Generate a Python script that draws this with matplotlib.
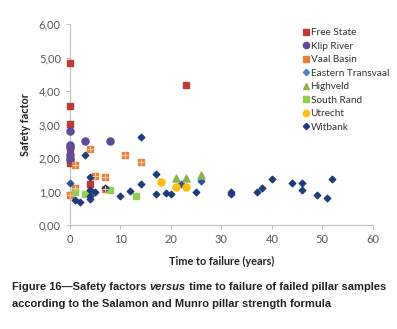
import matplotlib
matplotlib.use("Agg")
import matplotlib.pyplot as plt
from matplotlib.lines import Line2D

# Data (time to failure in years, safety factor)
free_state_x = [0, 0, 0, 0, 0, 0, 23, 4]
free_state_y = [4.85, 3.55, 3.03, 2.25, 1.95, 1.85, 4.18, 1.21]

klip_river_x = [0, 0, 0, 0, 0, 3, 8]
klip_river_y = [2.80, 2.38, 2.33, 2.08, 1.97, 2.52, 2.52]

vaal_basin_x = [1, 4, 5, 7, 11, 14, 0, 1, 7]
vaal_basin_y = [1.79, 2.26, 1.47, 1.42, 2.08, 1.87, 0.91, 1.10, 1.09]

eastern_transvaal_x = [0, 22, 26]
eastern_transvaal_y = [1.26, 1.22, 1.31]

highveld_x = [21, 23, 26]
highveld_y = [1.40, 1.40, 1.49]

south_rand_x = [1, 3, 8, 13, 4]
south_rand_y = [1.00, 0.94, 1.04, 0.86, 1.00]

utrecht_x = [18, 21, 23]
utrecht_y = [1.28, 1.13, 1.13]

witbank_x = [1, 2, 3, 4, 4, 4, 4, 5, 7, 10, 12, 14, 14, 17, 17, 19, 20,
             25, 32, 32, 37, 38, 40, 44, 46, 46, 49, 51, 52]
witbank_y = [0.74, 0.69, 2.10, 1.44, 1.05, 0.87, 0.77, 1.00, 1.12, 0.87,
             1.01, 2.62, 1.22, 1.52, 0.92, 0.95, 0.93, 0.98, 1.00, 0.92,
             0.99, 1.10, 1.37, 1.25, 1.25, 1.04, 0.89, 0.80, 1.37]

y_ticks = [0, 1, 2, 3, 4, 5, 6]
y_ticklabels = ["0,00", "1,00", "2,00", "3,00", "4,00", "5,00", "6,00"]
x_ticks = [0, 10, 20, 30, 40, 50, 60]

fig = plt.figure(figsize=(3.97, 3.29), dpi=100)
ax = fig.add_axes([0.176, 0.316, 0.763, 0.611])

font = "Lato"
gray = "#595959"

kw = dict(zorder=3, clip_on=False)
ax.scatter(free_state_x, free_state_y, marker="s", s=24, color="#BE3B35", **kw)
ax.scatter(klip_river_x, klip_river_y, marker="o", s=26, color="#5F4A96", **kw)
ax.scatter(vaal_basin_x, vaal_basin_y, marker="s", s=24, color="#E8803A", **kw)
ax.scatter(vaal_basin_x, vaal_basin_y, marker="+", s=14, color="#F8C9A6", linewidths=0.8,
           zorder=4, clip_on=False)
ax.scatter(eastern_transvaal_x, eastern_transvaal_y, marker="D", s=11, color="#2E5597", **kw)
ax.scatter(highveld_x, highveld_y, marker="^", s=26, color="#8FB052", **kw)
ax.scatter(south_rand_x, south_rand_y, marker="s", s=24, color="#92CF50", **kw)
ax.scatter(utrecht_x, utrecht_y, marker="o", s=26, color="#FDBD13", **kw)
ax.scatter(witbank_x, witbank_y, marker="D", s=11, color="#1F3B7C", **kw)

ax.set_xlim(0, 60)
ax.set_ylim(0, 6)
ax.set_xticks(x_ticks)
ax.set_yticks(y_ticks)
ax.set_yticklabels(y_ticklabels)
for s in ["top", "right"]:
    ax.spines[s].set_visible(False)
for s in ["left", "bottom"]:
    ax.spines[s].set_color("#BFBFBF")
    ax.spines[s].set_linewidth(0.8)
ax.tick_params(colors="#BFBFBF", labelcolor=gray, labelsize=8, length=3, width=0.8)
for lab in ax.get_xticklabels() + ax.get_yticklabels():
    lab.set_family(font)

ax.set_xlabel("Time to failure (years)", fontsize=7.8, fontweight="bold", family=font,
              color="#222222", labelpad=8)
ax.set_ylabel("Safety factor", fontsize=7.8, fontweight="bold", family=font,
              color="#222222", labelpad=6)

handles = [
    Line2D([], [], ls="", marker="s", ms=4.5, color="#BE3B35", label="Free State"),
    Line2D([], [], ls="", marker="o", ms=4.5, color="#5F4A96", label="Klip River"),
    Line2D([], [], ls="", marker="s", ms=4.5, color="#E8803A", label="Vaal Basin"),
    Line2D([], [], ls="", marker="D", ms=3.2, color="#4F81BD", label="Eastern Transvaal"),
    Line2D([], [], ls="", marker="^", ms=4.5, color="#8FB052", label="Highveld"),
    Line2D([], [], ls="", marker="s", ms=4.5, color="#92CF50", label="South Rand"),
    Line2D([], [], ls="", marker="o", ms=4.5, color="#FDBD13", label="Utrecht"),
    Line2D([], [], ls="", marker="D", ms=3.2, color="#1F3B7C", label="Witbank"),
]
leg = ax.legend(handles=handles, loc="upper left", bbox_to_anchor=(0.755, 1.0),
                frameon=False, handlelength=0.6, handletextpad=0.2, labelspacing=0.45,
                borderaxespad=0, prop={"family": font, "size": 7.2})
for t in leg.get_texts():
    t.set_color("#333333")

cap_font = "Liberation Sans"
cap_size = 8.0
y1 = 0.118
t1 = fig.text(0.030, y1, "Figure 16\u2014Safety factors ", fontsize=cap_size, fontweight="bold",
              family=cap_font, color="#222222", va="baseline")
r = fig.canvas.get_renderer()
bb = t1.get_window_extent(r)
x2 = bb.x1 / fig.bbox.width
t2 = fig.text(x2, y1, "versus", fontsize=cap_size, fontweight="bold", style="italic",
              family=cap_font, color="#222222", va="baseline")
bb2 = t2.get_window_extent(r)
x3 = bb2.x1 / fig.bbox.width
fig.text(x3, y1, " time to failure of failed pillar samples", fontsize=cap_size,
         fontweight="bold", family=cap_font, color="#222222", va="baseline")
fig.text(0.030, 0.066, "according to the Salamon and Munro pillar strength formula",
         fontsize=cap_size, fontweight="bold", family=cap_font, color="#222222", va="baseline")

fig.savefig("out.png", dpi=100)
